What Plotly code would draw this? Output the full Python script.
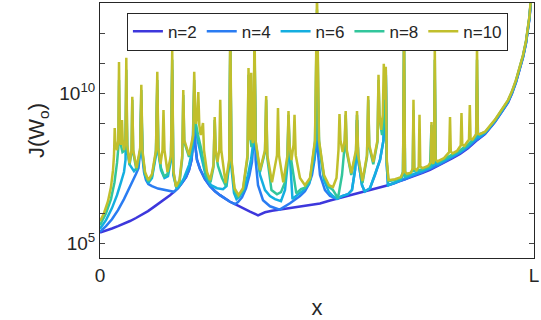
import plotly.graph_objects as go

# x in units of L (0..1), values given as log10 J
x_n2 = [0, .0138, .0276, .0415, .0553, .0691, .0829, .0968, .1106, .1244, .1382, .1521, .1613, .1705, .1797, .1889, .1982, .2051, .2108, .2150, .2171, .2194, .2235, .2304, .2419, .2535, .2650, .2765, .2880, .2995, .3111, .3226, .3341, .3456, .3641, .3802, .3963, .4147, .4378, .4608, .4839, .5069, .5300, .5461, .5645, .5876, .6106, .6336, .6636, .6912, .7143, .7419, .7604, .7788, .7949, .8111, .8295, .8479, .8664, .8871, .9101, .9286, .9401, .9493, .9585, .9677, .9747, .9816, .9862, .9896, .9924, .9954]
lg_n2 = [5.37, 5.43, 5.50, 5.58, 5.66, 5.75, 5.85, 5.96, 6.08, 6.22, 6.36, 6.51, 6.61, 6.72, 6.84, 7.01, 7.21, 7.44, 7.78, 8.44, 9.44, 8.28, 7.78, 7.48, 7.14, 6.91, 6.74, 6.61, 6.49, 6.39, 6.31, 6.22, 6.14, 6.06, 5.94, 6.04, 6.09, 6.13, 6.19, 6.25, 6.29, 6.33, 6.43, 6.49, 6.56, 6.65, 6.73, 6.83, 6.94, 7.08, 7.19, 7.34, 7.45, 7.58, 7.70, 7.83, 7.98, 8.17, 8.41, 8.64, 9.04, 9.43, 9.69, 9.99, 10.36, 10.83, 11.19, 11.66, 12.06, 12.49, 12.99, 13.78]

x_n4 = [0, .0138, .0276, .0415, .0553, .0668, .0760, .0829, .0887, .0929, .0952, .0975, .1014, .1060, .1113, .1198, .1336, .1475, .1590, .1705, .1797, .1889, .1982, .2051, .2108, .2150, .2171, .2194, .2235, .2304, .2419, .2535, .2650, .2765, .2880, .2995, .3111, .3180, .3272, .3364, .3445, .3502, .3541, .3560, .3585, .3641, .3756, .3917, .4140, .4378, .4608, .4723, .4816, .4885, .4942, .4984, .5, .5016, .5069, .5184, .5300, .5461, .5576, .5714, .5806, .5876, .5908, .5922, .5949, .6037, .6099, .6221, .6336, .6452, .6532, .6585, .6608, .6636, .6797, .6912, .7028, .7143, .7419, .7604, .7788, .7949, .8111, .8295, .8479, .8664, .8871, .9101, .9286, .9401, .9493, .9585, .9677, .9747, .9816, .9862, .9896, .9924, .9954]
lg_n4 = [5.39, 5.58, 5.81, 6.11, 6.48, 6.81, 7.11, 7.31, 7.51, 8.11, 9.61, 7.94, 7.38, 7.11, 6.98, 6.91, 6.83, 6.78, 6.74, 6.72, 6.84, 7.01, 7.21, 7.44, 7.78, 8.44, 9.60, 8.28, 7.78, 7.48, 7.14, 6.91, 6.74, 6.61, 6.49, 6.39, 6.31, 6.38, 6.54, 6.84, 7.28, 7.71, 8.44, 11.11, 7.78, 6.94, 6.44, 6.24, 6.13, 6.34, 6.58, 6.74, 6.98, 7.28, 7.78, 8.38, 9.78, 8.11, 7.28, 6.78, 6.58, 6.49, 6.58, 6.64, 6.78, 7.44, 8.11, 9.11, 7.78, 6.94, 6.73, 6.84, 7.28, 7.78, 8.44, 10.61, 7.61, 6.94, 7.01, 7.09, 7.14, 7.22, 7.37, 7.48, 7.61, 7.73, 7.86, 8.01, 8.20, 8.44, 8.66, 9.06, 9.45, 9.71, 10.01, 10.38, 10.85, 11.21, 11.68, 12.08, 12.51, 13.01, 13.80]

x_n6 = [0, .0138, .0276, .0392, .0484, .0553, .0588, .0606, .0627, .0691, .0783, .0864, .0931, .0952, .0977, .1037, .1113, .1198, .1290, .1320, .1343, .1406, .1486, .1567, .1636, .1664, .1689, .1763, .1843, .1935, .2051, .2131, .2171, .2194, .2258, .2350, .2442, .2558, .2696, .2834, .2915, .2977, .3002, .3030, .3087, .3145, .3226, .3318, .3410, .3479, .3541, .3560, .3585, .3687, .3802, .3917, .4032, .4170, .4263, .4320, .4343, .4366, .4435, .4539, .4677, .4816, .4931, .4977, .5, .5046, .5161, .5276, .5369, .5461, .5576, .5714, .5806, .5876, .5908, .5922, .5949, .6037, .6099, .6221, .6336, .6452, .6532, .6585, .6608, .6636, .6797, .6935, .6982, .7005, .7028, .7143, .7419, .7604, .7691, .7714, .7737, .7788, .7949, .8111, .8295, .8479, .8664, .8687, .8710, .8871, .9101, .9286, .9401, .9493, .9585, .9677, .9747, .9816, .9862, .9896, .9924, .9954]
lg_n6 = [5.49, 5.78, 6.18, 6.61, 7.04, 7.38, 7.78, 9.94, 8.11, 7.61, 7.41, 7.54, 8.11, 9.78, 7.94, 7.28, 7.01, 7.18, 7.94, 10.11, 8.04, 7.44, 7.18, 7.24, 7.78, 10.78, 7.28, 6.84, 6.94, 7.18, 7.61, 8.11, 10.11, 8.94, 8.38, 7.78, 7.21, 6.94, 6.84, 6.81, 6.91, 7.61, 11.44, 7.51, 6.68, 6.48, 6.58, 6.81, 7.28, 7.78, 8.44, 11.61, 8.28, 7.28, 6.78, 6.58, 6.48, 6.41, 6.78, 7.61, 9.11, 8.11, 6.48, 6.61, 6.76, 6.98, 7.78, 8.44, 10.78, 8.28, 7.11, 6.71, 6.58, 6.49, 6.58, 6.64, 6.78, 7.44, 8.11, 9.11, 7.78, 6.94, 6.73, 6.84, 7.28, 7.78, 8.44, 10.61, 7.61, 6.94, 7.03, 7.11, 7.31, 11.44, 7.20, 7.26, 7.41, 7.52, 7.62, 10.44, 7.65, 7.65, 7.77, 7.90, 8.05, 8.24, 8.50, 10.44, 8.52, 8.68, 9.08, 9.47, 9.73, 10.03, 10.40, 10.87, 11.23, 11.70, 12.10, 12.53, 13.03, 13.82]

x_n8 = [0, .0138, .0253, .0334, .0392, .0422, .0438, .0456, .0518, .0553, .0588, .0606, .0627, .0680, .0726, .0744, .0765, .0841, .0926, .0952, .0977, .1037, .1113, .1198, .1290, .1320, .1343, .1406, .1475, .1555, .1636, .1664, .1689, .1758, .1832, .1896, .1919, .1942, .2051, .2147, .2171, .2194, .2258, .2327, .2442, .2546, .2615, .2643, .2666, .2719, .2811, .2903, .2977, .3002, .3030, .3099, .3180, .3295, .3399, .3422, .3445, .3491, .3541, .3560, .3585, .3687, .3802, .3829, .3855, .3951, .4078, .4170, .4263, .4320, .4343, .4366, .4424, .4523, .4631, .4723, .4839, .4954, .5, .5046, .5161, .5276, .5369, .5484, .5576, .5638, .5661, .5686, .5790, .5899, .5922, .5949, .6048, .6152, .6180, .6205, .6297, .6394, .6417, .6440, .6498, .6562, .6585, .6608, .6647, .6797, .6935, .6982, .7005, .7028, .7143, .7205, .7223, .7242, .7419, .7604, .7638, .7657, .7680, .7698, .7714, .7733, .7788, .7949, .8111, .8295, .8479, .8652, .8671, .8687, .8705, .8871, .9101, .9286, .9401, .9493, .9585, .9677, .9747, .9816, .9862, .9896, .9924, .9954]
lg_n8 = [5.61, 6.01, 6.48, 7.04, 7.68, 8.18, 10.44, 8.44, 8.04, 8.08, 8.34, 10.78, 8.18, 7.61, 8.04, 9.78, 8.04, 7.44, 8.11, 10.11, 8.04, 7.31, 7.06, 7.24, 8.04, 10.44, 8.11, 7.51, 7.24, 7.31, 7.84, 11.11, 7.38, 6.88, 7.04, 7.84, 9.94, 8.38, 7.88, 8.51, 10.44, 9.11, 8.61, 8.18, 7.28, 7.04, 7.54, 9.11, 8.04, 7.58, 7.18, 6.91, 7.68, 11.78, 7.71, 6.78, 6.53, 6.78, 7.84, 10.61, 8.71, 8.21, 8.71, 11.78, 8.38, 7.38, 8.04, 9.78, 7.84, 6.78, 6.64, 6.71, 7.04, 7.84, 9.28, 8.18, 7.61, 6.67, 6.81, 6.86, 7.11, 8.38, 12.78, 8.38, 7.21, 6.88, 6.78, 6.51, 7.28, 8.28, 9.28, 8.04, 7.28, 8.04, 9.28, 7.88, 7.01, 7.88, 9.78, 8.21, 7.64, 8.38, 10.44, 9.18, 8.61, 9.28, 10.78, 7.71, 7.08, 7.11, 7.18, 7.38, 11.78, 7.25, 7.31, 7.45, 9.44, 7.42, 7.46, 7.57, 8.94, 7.65, 7.66, 7.85, 11.11, 7.75, 7.70, 7.82, 7.95, 8.10, 8.29, 8.55, 8.65, 11.11, 8.62, 8.70, 9.10, 9.49, 9.75, 10.05, 10.42, 10.89, 11.25, 11.72, 12.12, 12.55, 13.05, 13.84]

x_n10 = [0, .0092, .0184, .0253, .0300, .0323, .0339, .0357, .0392, .0422, .0438, .0456, .0477, .0495, .0507, .0523, .0553, .0588, .0606, .0627, .0680, .0726, .0744, .0765, .0841, .0926, .0952, .0977, .1037, .1113, .1198, .1290, .1320, .1343, .1394, .1440, .1463, .1486, .1555, .1636, .1664, .1689, .1751, .1832, .1896, .1919, .1942, .2051, .2147, .2171, .2194, .2216, .2242, .2265, .2288, .2320, .2352, .2373, .2396, .2465, .2535, .2615, .2643, .2666, .2707, .2749, .2770, .2795, .2892, .2977, .3002, .3030, .3099, .3191, .3295, .3399, .3422, .3440, .3452, .3466, .3484, .3502, .3521, .3541, .3560, .3585, .3687, .3802, .3829, .3855, .3963, .4078, .4101, .4124, .4223, .4320, .4343, .4366, .4412, .4459, .4482, .4509, .4608, .4723, .4839, .4954, .5, .5046, .5161, .5276, .5369, .5449, .5495, .5518, .5541, .5590, .5638, .5661, .5686, .5790, .5899, .5922, .5949, .6048, .6152, .6180, .6205, .6297, .6394, .6417, .6440, .6479, .6516, .6539, .6562, .6585, .6608, .6647, .6797, .6935, .6982, .7005, .7028, .7074, .7166, .7205, .7223, .7242, .7293, .7343, .7362, .7380, .7431, .7558, .7622, .7638, .7657, .7680, .7698, .7714, .7733, .7776, .7926, .8046, .8065, .8083, .8122, .8226, .8311, .8329, .8348, .8398, .8502, .8521, .8539, .8583, .8668, .8687, .8705, .8744, .8871, .9101, .9286, .9401, .9493, .9585, .9677, .9747, .9816, .9862, .9896, .9924, .9954]
lg_n10 = [5.74, 6.01, 6.41, 6.88, 7.44, 7.94, 8.84, 8.28, 8.11, 8.44, 11.04, 8.61, 8.28, 8.51, 9.11, 8.44, 8.11, 8.44, 11.18, 8.28, 7.68, 8.11, 9.88, 8.11, 7.51, 8.18, 10.28, 8.11, 7.38, 7.11, 7.31, 8.11, 10.71, 8.18, 7.64, 8.11, 9.44, 8.11, 7.38, 7.94, 11.44, 7.44, 6.89, 7.11, 7.94, 10.11, 8.44, 7.94, 8.61, 10.71, 9.28, 8.98, 9.28, 10.04, 8.94, 8.61, 8.84, 9.01, 8.11, 7.38, 7.11, 7.61, 9.21, 8.11, 7.71, 8.11, 9.78, 8.11, 7.01, 7.78, 12.28, 7.78, 6.84, 6.61, 6.84, 7.94, 10.84, 8.78, 8.44, 8.78, 10.68, 8.61, 8.34, 8.78, 12.28, 8.44, 7.44, 8.11, 9.91, 7.94, 7.04, 7.94, 9.51, 7.94, 7.04, 7.94, 9.41, 8.28, 7.78, 8.28, 9.28, 7.94, 7.18, 6.94, 7.18, 8.44, 13.28, 8.44, 7.28, 6.94, 6.88, 7.18, 8.11, 9.31, 8.44, 8.04, 8.44, 9.41, 8.11, 7.34, 8.11, 9.41, 7.94, 7.08, 7.94, 9.91, 8.28, 7.71, 8.44, 10.61, 9.28, 8.78, 9.28, 10.98, 9.78, 10.88, 7.78, 7.11, 7.14, 7.21, 7.36, 12.28, 7.38, 7.32, 7.36, 7.50, 9.78, 7.50, 7.44, 7.55, 9.28, 7.56, 7.51, 7.58, 7.70, 9.04, 7.72, 7.66, 7.78, 11.61, 7.80, 7.73, 7.84, 8.04, 9.21, 8.06, 8.00, 8.08, 8.26, 9.34, 8.28, 8.25, 8.46, 9.61, 8.48, 8.46, 8.64, 11.61, 8.66, 8.63, 8.72, 9.12, 9.51, 9.77, 10.07, 10.44, 10.91, 11.27, 11.74, 12.14, 12.57, 13.07, 13.86]

series = [
    ("n=2", x_n2, lg_n2, "#3d37dc"),
    ("n=4", x_n4, lg_n4, "#2a7cf2"),
    ("n=6", x_n6, lg_n6, "#14aee0"),
    ("n=8", x_n8, lg_n8, "#32c69c"),
    ("n=10", x_n10, lg_n10, "#c1bf2c"),
]

fig = go.Figure()
for name, xs, lg, col in series:
    fig.add_trace(go.Scatter(x=xs, y=[10 ** v for v in lg], mode="lines", name=name,
                             line=dict(color=col, width=2.5)))

dec = [10 ** k for k in range(5, 13)]
dec_text = ["10<sup>5</sup>", "", "", "", "", "10<sup>10</sup>", "", ""]

fig.update_layout(
    width=541, height=320,
    margin=dict(l=100, r=7, t=3, b=62),
    plot_bgcolor="white", paper_bgcolor="white",
    font=dict(family="Liberation Sans, Arial, sans-serif", size=19, color="#262626"),
    showlegend=True,
    legend=dict(orientation="h", x=0.062, y=0.962, xanchor="left", yanchor="top",
                bgcolor="white", bordercolor="#262626", borderwidth=1,
                font=dict(size=17), tracegroupgap=0),
    xaxis=dict(range=[0, 1], tickvals=[0, 1], ticktext=["0", "L"], ticks="inside", ticklen=5,
               showline=True, linecolor="#262626", linewidth=1, mirror="allticks",
               showgrid=False, zeroline=False,
               title=dict(text="x", font=dict(size=22), standoff=15)),
    yaxis=dict(type="log", range=[4.52, 13.0], tickvals=dec, ticktext=dec_text,
               ticks="inside", ticklen=5, showline=True, linecolor="#262626", linewidth=1,
               mirror="allticks", showgrid=False, zeroline=False,
               title=dict(text="J(W<sub>o</sub>)", font=dict(size=22), standoff=8)),
)

fig.write_html("out.html")
